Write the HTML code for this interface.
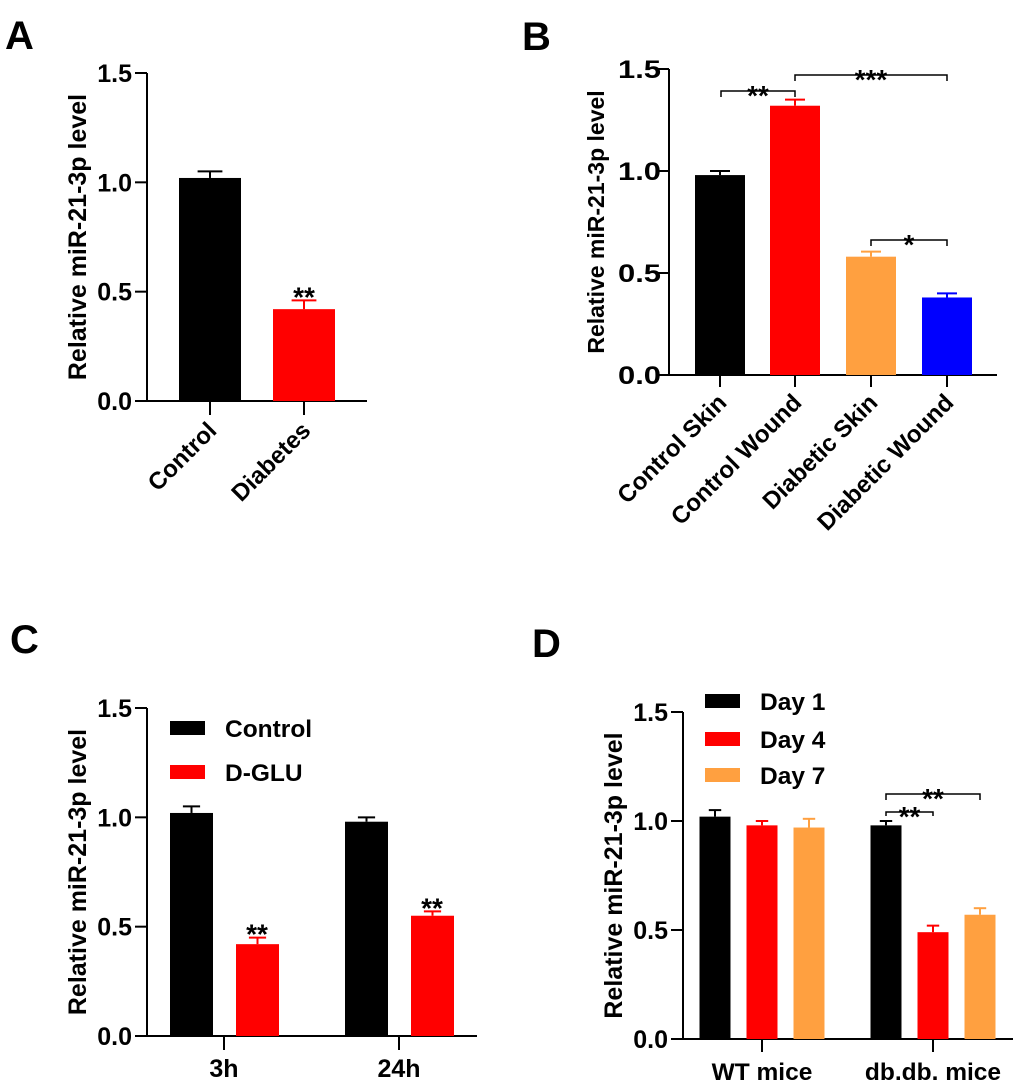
<!DOCTYPE html>
<html><head><meta charset="utf-8"><style>
html,body{margin:0;padding:0;background:#fff}
svg{display:block;font-family:"Liberation Sans",Arial,sans-serif;font-weight:bold}
</style></head><body>
<svg id="fig" width="1020" height="1086" viewBox="0 0 1020 1086" xmlns="http://www.w3.org/2000/svg">
<text x="5" y="49" font-size="40">A</text>
<text x="522" y="50" font-size="40">B</text>
<text x="10" y="653" font-size="40">C</text>
<text x="532" y="657" font-size="40">D</text>
</svg>
<script>
const yTicks = [0, 0.5, 1.0, 1.5];
const yTickLabels = ["0.0", "0.5", "1.0", "1.5"];
const aCategories = ["Control", "Diabetes"];
const aValues = [1.02, 0.42];
const aErrors = [0.03, 0.04];
const bCategories = ["Control Skin", "Control Wound", "Diabetic Skin", "Diabetic Wound"];
const bValues = [0.98, 1.32, 0.58, 0.38];
const bErrors = [0.02, 0.03, 0.025, 0.02];
const cGroups = ["3h", "24h"];
const cSeries = ["Control", "D-GLU"];
const cControl = [1.02, 0.98];
const cControlErr = [0.03, 0.02];
const cDGLU = [0.42, 0.55];
const cDGLUErr = [0.03, 0.02];
const dGroups = ["WT mice", "db.db. mice"];
const dSeries = ["Day 1", "Day 4", "Day 7"];
const dDay1 = [1.02, 0.98];
const dDay1Err = [0.03, 0.02];
const dDay4 = [0.98, 0.49];
const dDay4Err = [0.02, 0.03];
const dDay7 = [0.97, 0.57];
const dDay7Err = [0.04, 0.03];

const svg = document.getElementById('fig');
const NS = 'http://www.w3.org/2000/svg';
function mk(tag, attrs, parent) {
  const e = document.createElementNS(NS, tag);
  for (const k in attrs) e.setAttribute(k, attrs[k]);
  (parent || svg).appendChild(e);
  return e;
}
function txt(x, y, s, size, anchor, parent) {
  const t = mk('text', {x: x, y: y, 'font-size': size, 'text-anchor': anchor || 'start'}, parent);
  t.textContent = s;
  return t;
}

function axes(g, ax, y0, y15, xStart, xEnd, labelX, name, opts) {
  opts = opts || {};
  const ys = v => y0 + (y15 - y0) * v / 1.5;
  const yl = mk('line', {x1: ax, y1: y0, x2: ax, y2: y15, stroke: '#000', 'stroke-width': 2}, g);
  
  
  const xl = mk('line', {x1: xStart, y1: y0, x2: xEnd, y2: y0, stroke: '#000', 'stroke-width': 2}, g);
  
  
  yTicks.forEach((v, i) => {
    mk('line', {x1: ax - 12, y1: ys(v), x2: ax, y2: ys(v), stroke: '#000', 'stroke-width': 2}, g);
    const t = txt(ax - (opts.tickGap || 15), ys(v) + 9, yTickLabels[i], 25, 'end', g);
    if (opts.tickWidth) {
      t.setAttribute('textLength', opts.tickWidth);
      t.setAttribute('lengthAdjust', 'spacingAndGlyphs');
    }
    
    
  });
  const cy = (y0 + y15) / 2;
  const t = txt(0, 0, 'Relative miR-21-3p level', opts.titleSize || 25, 'middle', g);
  t.setAttribute('transform', 'translate(' + (labelX + 9) + ',' + cy + ') rotate(-90)');
  
  
  return ys;
}
function bar(g, x1, x2, v, err, ys, color, name) {
  const r = mk('rect', {x: x1, y: ys(v), width: x2 - x1, height: ys(0) - ys(v), fill: color}, g);
  
  
  const cx = (x1 + x2) / 2, hw = (x2 - x1) * 0.2;
  mk('line', {x1: cx, y1: ys(v), x2: cx, y2: ys(v + err), stroke: color, 'stroke-width': 2}, g);
  mk('line', {x1: cx - hw, y1: ys(v + err), x2: cx + hw, y2: ys(v + err), stroke: color, 'stroke-width': 2}, g);
}
function bracket(g, xa, xb, y, leg, label, name) {
  const p = mk('path', {d: 'M' + xa + ',' + (y + leg) + 'V' + y + 'H' + xb + 'V' + (y + leg), fill: 'none', stroke: '#000', 'stroke-width': 1.5}, g);
  
  
  txt((xa + xb) / 2, y + 14, label, 28, 'middle', g);
}

// Panel A
(function () {
  const g = mk('g', {});
  
  
  const ys = axes(g, 147, 401, 73, 135, 367, 77, 'panel-a');
  const colors = ['#000', '#ff0000'];
  const centers = [210, 304];
  aCategories.forEach((c, i) => {
    bar(g, centers[i] - 31, centers[i] + 31, aValues[i], aErrors[i], ys, colors[i], 'bar-' + c.toLowerCase());
    mk('line', {x1: centers[i], y1: 401, x2: centers[i], y2: 415, stroke: '#000', 'stroke-width': 2}, g);
    const t = txt(0, 0, c, 24, 'end', g);
    t.setAttribute('transform', 'translate(' + (centers[i] + 8) + ',432) rotate(-45)');
    
    
  });
  const s = txt(centers[1], ys(aValues[1] + aErrors[1]) + 6, '**', 28, 'middle', g);
  
  
})();

// Panel B
(function () {
  const g = mk('g', {});
  
  
  const ys = axes(g, 669, 375, 69, 656, 997, 595, 'panel-b', {tickWidth: 43, tickGap: 8, titleSize: 23});
  const colors = ['#000', '#ff0000', '#ffa040', '#0000ff'];
  const centers = [720, 795, 871, 947];
  bCategories.forEach((c, i) => {
    bar(g, centers[i] - 25, centers[i] + 25, bValues[i], bErrors[i], ys, colors[i], 'bar-' + c.toLowerCase().replace(/ /g, '-'));
    mk('line', {x1: centers[i], y1: 375, x2: centers[i], y2: 387, stroke: '#000', 'stroke-width': 2}, g);
    const t = txt(0, 0, c, 24, 'end', g);
    t.setAttribute('transform', 'translate(' + (centers[i] + 8) + ',404) rotate(-45)');
    
    
  });
  bracket(g, 721, 795, 91, 6, '**', 'bracket-control');
  bracket(g, 795, 947, 75, 6, '***', 'bracket-wound');
  bracket(g, 871, 947, 240, 6, '*', 'bracket-diabetic');
})();

// Panel C
(function () {
  const g = mk('g', {});
  
  
  const ys = axes(g, 147, 1036, 708, 135, 477, 77, 'panel-c');
  const centers = [224, 399];
  cGroups.forEach((c, i) => {
    bar(g, centers[i] - 54, centers[i] - 11, cControl[i], cControlErr[i], ys, '#000', 'bar-control-' + c);
    bar(g, centers[i] + 12, centers[i] + 55, cDGLU[i], cDGLUErr[i], ys, '#ff0000', 'bar-dglu-' + c);
    const s = txt(centers[i] + 33, ys(cDGLU[i] + cDGLUErr[i]) + 6, '**', 28, 'middle', g);
    
    
    mk('line', {x1: centers[i], y1: 1036, x2: centers[i], y2: 1050, stroke: '#000', 'stroke-width': 2}, g);
    const t = txt(centers[i], 1077, c, 25, 'middle', g);
    
    
  });
  const lc = ['#000', '#ff0000'];
  cSeries.forEach((s, i) => {
    const y = 721 + i * 44;
    const r = mk('rect', {x: 170, y: y, width: 35, height: 14, fill: lc[i]}, g);
    
    
    const t = txt(225, y + 16, s, 24.5, 'start', g);
    
    
  });
})();

// Panel D
(function () {
  const g = mk('g', {});
  
  
  const ys = axes(g, 683, 1039, 712, 671, 1013, 613, 'panel-d');
  const centers = [762, 933];
  const series = [[dDay1, dDay1Err, '#000'], [dDay4, dDay4Err, '#ff0000'], [dDay7, dDay7Err, '#ffa040']];
  dGroups.forEach((c, i) => {
    series.forEach((s, j) => {
      const cx = centers[i] + (j - 1) * 47;
      bar(g, cx - 15.5, cx + 15.5, s[0][i], s[1][i], ys, s[2], 'bar-' + c.replace(/[ .]+/g, '-') + '-day' + j);
    });
    mk('line', {x1: centers[i], y1: 1039, x2: centers[i], y2: 1052, stroke: '#000', 'stroke-width': 2}, g);
    const t = txt(centers[i], 1080, c, 24.5, 'middle', g);
    
    
  });
  bracket(g, 886, 980, 794, 6, '**', 'bracket-day7');
  bracket(g, 886, 933, 812, 4, '**', 'bracket-day4');
  dSeries.forEach((s, i) => {
    const y = [694, 732, 768][i];
    const r = mk('rect', {x: 705, y: y, width: 35, height: 14, fill: series[i][2]}, g);
    
    
    const t = txt(760, y + 16, s, 24.5, 'start', g);
    
    
  });
})();
</script>
</body></html>
